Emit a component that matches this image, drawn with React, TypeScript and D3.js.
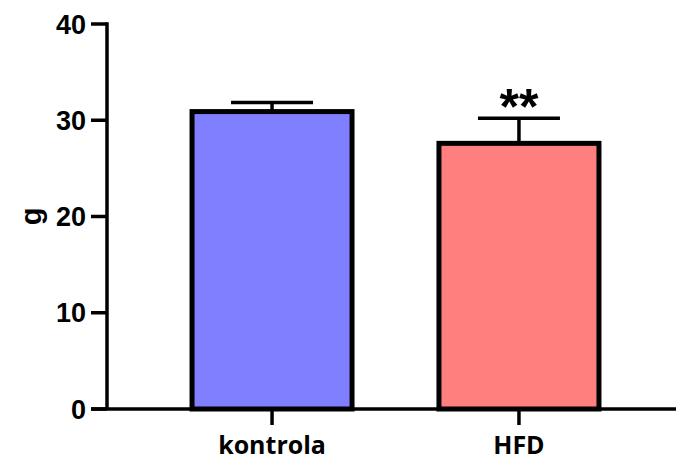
import React, { useEffect, useRef } from "react";
import * as d3 from "d3";

const categories = ["kontrola", "HFD"];
const means = [30.9, 27.6];
const sd = [0.95, 2.6];
const fills = ["#7f7fff", "#ff7f7f"];
const yTicks = [0, 10, 20, 30, 40];
const stars = ["", "**"];

export default function App() {
  const ref = useRef<SVGSVGElement>(null);

  useEffect(() => {
    const svg = d3.select(ref.current);
    svg.selectAll("*").remove();

    const width = 676;
    const axisX = 107;
    const y = d3.scaleLinear().domain([0, 40]).range([409, 24]);
    const x = d3
      .scaleBand()
      .domain(categories)
      .range([115, 676])
      .paddingInner(0.352)
      .paddingOuter(0.312);

    const bw = x.bandwidth();
    const font = "'Liberation Sans', Arial, sans-serif";

    // bars
    svg
      .selectAll(".bar")
      .data(categories)
      .join("rect")
      .attr("class", "bar")
      .attr("x", (d) => x(d)!)
      .attr("width", bw)
      .attr("y", (d, i) => y(means[i]))
      .attr("height", (d, i) => y(0) - y(means[i]))
      .attr("fill", (d, i) => fills[i])
      .attr("stroke", "#000")
      .attr("stroke-width", 5);

    // error bars + significance
    const capW = 82;
    categories.forEach((c, i) => {
      const cx = x(c)! + bw / 2;
      const top = y(means[i] + sd[i]);
      svg
        .append("line")
        .attr("x1", cx)
        .attr("x2", cx)
        .attr("y1", y(means[i]))
        .attr("y2", top)
        .attr("stroke", "#000")
        .attr("stroke-width", 3.5);
      svg
        .append("line")
        .attr("x1", cx - capW / 2)
        .attr("x2", cx + capW / 2)
        .attr("y1", top)
        .attr("y2", top)
        .attr("stroke", "#000")
        .attr("stroke-width", 3.5);
      if (stars[i]) {
        svg
          .append("text")
          .attr("x", cx)
          .attr("y", top + 6)
          .attr("text-anchor", "middle")
          .attr("font-family", font)
          .attr("font-weight", "bold")
          .attr("font-size", 50)
          .text(stars[i]);
      }
    });

    // y axis
    svg
      .append("line")
      .attr("x1", axisX)
      .attr("x2", axisX)
      .attr("y1", y(40) - 1.75)
      .attr("y2", y(0))
      .attr("stroke", "#000")
      .attr("stroke-width", 3.5);
    const yt = svg.selectAll(".ytick").data(yTicks).join("g").attr("class", "ytick");
    yt.append("line")
      .attr("x1", axisX - 16)
      .attr("x2", axisX)
      .attr("y1", (d) => y(d))
      .attr("y2", (d) => y(d))
      .attr("stroke", "#000")
      .attr("stroke-width", 3.5);
    yt.append("text")
      .attr("x", axisX - 21)
      .attr("y", (d) => y(d))
      .attr("dy", "0.36em")
      .attr("text-anchor", "end")
      .attr("font-family", font)
      .attr("font-weight", "bold")
      .attr("font-size", 27)
      .text((d) => d);

    // x axis
    svg
      .append("line")
      .attr("x1", axisX - 16)
      .attr("x2", width)
      .attr("y1", y(0))
      .attr("y2", y(0))
      .attr("stroke", "#000")
      .attr("stroke-width", 3.5);
    const xt = svg.selectAll(".xtick").data(categories).join("g").attr("class", "xtick");
    xt.append("line")
      .attr("x1", (d) => x(d)! + bw / 2)
      .attr("x2", (d) => x(d)! + bw / 2)
      .attr("y1", y(0))
      .attr("y2", y(0) + 16)
      .attr("stroke", "#000")
      .attr("stroke-width", 3.5);
    xt.append("text")
      .attr("x", (d) => x(d)! + bw / 2)
      .attr("y", 454)
      .attr("text-anchor", "middle")
      .attr("font-family", "'Open Sans', sans-serif")
      .attr("font-weight", "bold")
      .attr("font-size", 25)
      .text((d) => d);

    // y label
    svg
      .append("text")
      .attr("transform", `translate(41,${y(20)}) rotate(-90)`)
      .attr("text-anchor", "middle")
      .attr("font-family", font)
      .attr("font-weight", "bold")
      .attr("font-size", 29)
      .text("g");
  }, []);

  return (
    <svg
      ref={ref}
      width={676}
      height={463}
      style={{ position: "absolute", left: 0, top: 0, background: "#fff" }}
    />
  );
}
